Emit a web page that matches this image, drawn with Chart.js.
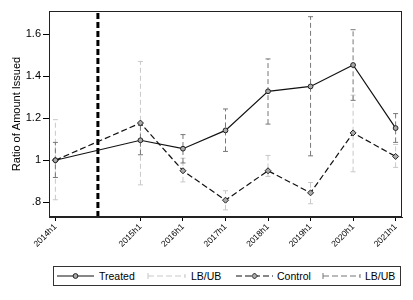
<!DOCTYPE html>
<html>
<head>
<meta charset="utf-8">
<script src="https://cdn.jsdelivr.net/npm/chart.js@4"></script>
<style>
  body { margin: 0; background: #fff; font-family: "Liberation Sans", Arial, sans-serif; }
  #wrap { position: absolute; left: 0; top: 0; width: 413px; height: 262px; }
  #legend { position: absolute; left: 53px; top: 266px; width: 346px; height: 18px;
            border: 1px solid #333; font-size: 10.5px; color: #000; }
  #legend .item { position: absolute; top: 0; height: 18px; line-height: 18px; }
  #legend svg { position: absolute; top: 0; }
</style>
</head>
<body>
<div id="wrap"><canvas id="myChart"></canvas></div>
<div id="legend">
  <svg style="left:3px" width="37" height="18"><line x1="0" y1="9" x2="37" y2="9" stroke="#111" stroke-width="1.2"/><circle cx="18.5" cy="9" r="2.4" fill="#aaa" stroke="#222" stroke-width="1"/></svg>
  <span class="item" style="left:45px">Treated</span>
  <svg style="left:93px" width="39" height="18"><line x1="1" y1="6" x2="1" y2="12" stroke="#c8c8c8"/><line x1="1" y1="9" x2="38" y2="9" stroke="#c8c8c8" stroke-dasharray="6,3"/><line x1="38" y1="7" x2="38" y2="11" stroke="#c8c8c8"/></svg>
  <span class="item" style="left:137px">LB/UB</span>
  <svg style="left:182px" width="37" height="18"><line x1="0" y1="9" x2="37" y2="9" stroke="#111" stroke-width="1.2" stroke-dasharray="6,3"/><path d="M18.5 6 L21.5 9 L18.5 12 L15.5 9 Z" fill="#aaa" stroke="#222" stroke-width="1"/></svg>
  <span class="item" style="left:223px">Control</span>
  <svg style="left:268px" width="39" height="18"><line x1="1" y1="6" x2="1" y2="12" stroke="#777"/><line x1="1" y1="9" x2="38" y2="9" stroke="#777" stroke-dasharray="6,3"/><line x1="38" y1="7" x2="38" y2="11" stroke="#777"/></svg>
  <span class="item" style="left:311px">LB/UB</span>
</div>
<script>
// periods (x positions on a linear axis) and their tick labels
let periods = [0, 2, 3, 4, 5, 6, 7, 8]
let periodLabels = ['2014h1', '2015h1', '2016h1', '2017h1', '2018h1', '2019h1', '2020h1', '2021h1']
let eventPeriod = 1

let treated   = [1.000, 1.095, 1.055, 1.142, 1.328, 1.351, 1.453, 1.153]
let treatedLo = [0.918, 1.026, 0.987, 1.042, 1.172, 1.021, 1.285, 1.085]
let treatedHi = [1.085, 1.165, 1.122, 1.244, 1.482, 1.683, 1.621, 1.222]

let control   = [1.000, 1.177, 0.950, 0.810, 0.950, 0.845, 1.130, 1.018]
let controlLo = [0.812, 0.883, 0.897, 0.764, 0.923, 0.793, 0.945, 0.966]
let controlHi = [1.193, 1.470, 1.010, 0.855, 1.023, 0.894, 1.310, 1.075]

let yTicks = [0.8, 1, 1.2, 1.4, 1.6]
let yTickLabels = ['.8', '1', '1.2', '1.4', '1.6']

const yMin = 0.73, yMax = 1.71

function points(ys) {
  return periods.map((x, i) => ({ x: x, y: ys[i] }))
}

// vertical error bars as broken line segments
function bars(lo, hi) {
  let out = []
  periods.forEach(function (x, i) {
    out.push({ x: x, y: lo[i] }, { x: x, y: hi[i] }, { x: x, y: null })
  })
  return out
}

const frame = {
  id: 'frame',
  afterDraw(chart) {
    const a = chart.chartArea, ctx = chart.ctx
    ctx.save()
    ctx.strokeStyle = '#222'
    ctx.lineWidth = 1
    ctx.strokeRect(Math.round(a.left) + 0.5, Math.round(a.top) + 0.5,
                   Math.round(a.right - a.left) - 1, Math.round(a.bottom - a.top) - 1)
    ctx.restore()
  }
}

var ctx = document.getElementById('myChart').getContext('2d');
var chart = new Chart(ctx, {
    type: 'scatter',
    data: {
        datasets: [
            {
                label: 'Treated',
                data: points(treated),
                showLine: true,
                borderColor: '#111',
                borderWidth: 1.2,
                pointStyle: 'circle',
                pointRadius: 2.4,
                pointBackgroundColor: '#aaa',
                pointBorderColor: '#222',
                pointBorderWidth: 1,
            },
            {
                label: 'Control',
                data: points(control),
                showLine: true,
                borderColor: '#111',
                borderWidth: 1.2,
                borderDash: [6, 3],
                pointStyle: 'rectRot',
                pointRadius: 3,
                pointBackgroundColor: '#aaa',
                pointBorderColor: '#222',
                pointBorderWidth: 1,
            },
            {
                label: 'event',
                data: [{ x: eventPeriod, y: yMin }, { x: eventPeriod, y: yMax }],
                showLine: true,
                borderColor: '#000',
                borderWidth: 3,
                borderDash: [6, 3],
                pointRadius: 0,
            },
            {
                label: 'LB/UB treated',
                data: bars(treatedLo, treatedHi),
                showLine: true,
                spanGaps: false,
                borderColor: '#777',
                borderWidth: 1,
                borderDash: [5, 3],
                pointStyle: 'line',
                pointRadius: 2.5,
                pointBorderColor: '#777',
                pointBorderWidth: 1,
            },
            {
                label: 'LB/UB control',
                data: bars(controlLo, controlHi),
                showLine: true,
                spanGaps: false,
                borderColor: '#c8c8c8',
                borderWidth: 1,
                borderDash: [5, 3],
                pointStyle: 'line',
                pointRadius: 2.5,
                pointBorderColor: '#c8c8c8',
                pointBorderWidth: 1,
            },
        ]
    },
    options: {
        responsive: true,
        maintainAspectRatio: false,
        animation: false,
        layout: { padding: { top: 11, right: 11, left: 0, bottom: 0 } },
        plugins: { legend: { display: false }, tooltip: { enabled: false } },
        scales: {
            x: {
                type: 'linear',
                min: -0.15,
                max: 8.15,
                afterBuildTicks: function (scale) {
                    scale.ticks = periods.map(v => ({ value: v }))
                },
                afterFit: function (scale) { scale.height = 45 },
                ticks: {
                    autoSkip: false,
                    minRotation: 45,
                    maxRotation: 45,
                    padding: 1,
                    color: '#000',
                    font: { family: 'Liberation Sans', size: 8.5 },
                    callback: function (v) { return periodLabels[periods.indexOf(v)] }
                },
                grid: { drawOnChartArea: false, drawTicks: true, tickLength: 4, color: '#000' },
                border: { color: '#222' }
            },
            y: {
                min: yMin,
                max: yMax,
                afterBuildTicks: function (scale) {
                    scale.ticks = yTicks.map(v => ({ value: v }))
                },
                afterFit: function (scale) { scale.width = 49 },
                ticks: {
                    padding: 2,
                    color: '#000',
                    font: { family: 'Liberation Sans', size: 11 },
                    callback: function (v) { return yTickLabels[yTicks.indexOf(v)] }
                },
                grid: { drawOnChartArea: false, drawTicks: true, tickLength: 6, color: '#000' },
                border: { color: '#222' },
                title: {
                    display: true,
                    text: 'Ratio of Amount Issued',
                    color: '#000',
                    font: { family: 'Liberation Sans', size: 11 },
                    padding: { top: 10, bottom: 0 }
                }
            }
        }
    },
    plugins: [frame]
});
</script>
</body>
</html>
